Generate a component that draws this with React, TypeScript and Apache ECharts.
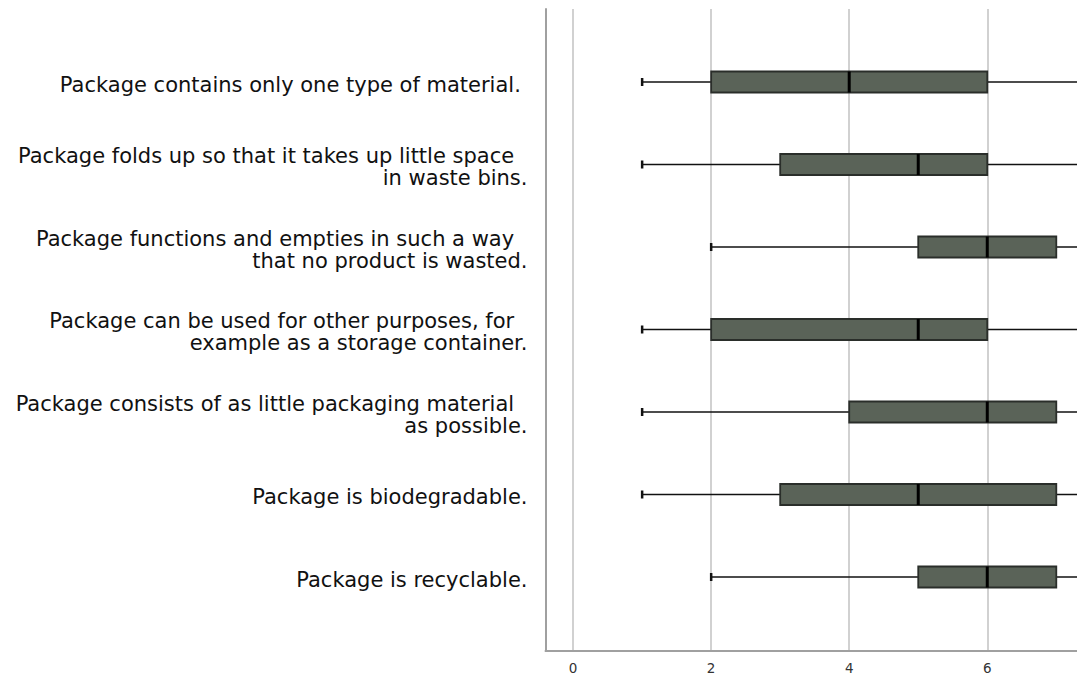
import React, { useEffect, useRef } from "react";
import * as echarts from "echarts";

// Statements rated by respondents, top to bottom
const statements: string[] = [
  "Package contains only one type of material. ",
  "Package folds up so that it takes up little space  \nin waste bins.",
  "Package functions and empties in such a way  \nthat no product is wasted.",
  "Package can be used for other purposes, for  \nexample as a storage container.",
  "Package consists of as little packaging material  \nas possible.",
  "Package is biodegradable.",
  "Package is recyclable.",
];

// Five-number summaries per statement
const whiskerLow: number[] = [1, 1, 2, 1, 1, 1, 2];
const quartile1: number[] = [2, 3, 5, 2, 4, 3, 5];
const medians: number[] = [4, 5, 6, 5, 6, 5, 6];
const quartile3: number[] = [6, 6, 7, 6, 7, 7, 7];
const whiskerHigh: number[] = [8, 8, 8, 8, 8, 8, 8];

const X_MIN = -0.4;
const X_MAX = 7.3;

export default function App() {
  const ref = useRef<HTMLDivElement>(null);

  useEffect(() => {
    if (!ref.current) return;
    const chart = echarts.init(ref.current, undefined, { renderer: "svg" });

    const rows = statements.map((_, i) => [
      i,
      whiskerLow[i],
      quartile1[i],
      medians[i],
      quartile3[i],
      whiskerHigh[i],
    ]);

    const BOX_H = 21;
    const CAP_H = 8;

    const renderItem = (params: any, api: any) => {
      const cat = api.value(0);
      const lo = api.coord([api.value(1), cat]);
      const q1 = api.coord([api.value(2), cat]);
      const md = api.coord([api.value(3), cat]);
      const q3 = api.coord([api.value(4), cat]);
      const hi = api.coord([api.value(5), cat]);
      const y = lo[1];
      const lineStyle = { stroke: "#111", lineWidth: 1.5 };
      return {
        type: "group",
        children: [
          { type: "line", shape: { x1: lo[0], y1: y, x2: q1[0], y2: y }, style: lineStyle },
          { type: "line", shape: { x1: q3[0], y1: y, x2: hi[0], y2: y }, style: lineStyle },
          {
            type: "line",
            shape: { x1: lo[0], y1: y - CAP_H / 2, x2: lo[0], y2: y + CAP_H / 2 },
            style: { stroke: "#111", lineWidth: 2.5 },
          },
          {
            type: "line",
            shape: { x1: hi[0], y1: y - CAP_H / 2, x2: hi[0], y2: y + CAP_H / 2 },
            style: { stroke: "#111", lineWidth: 2.5 },
          },
          {
            type: "rect",
            shape: { x: q1[0], y: y - BOX_H / 2, width: q3[0] - q1[0], height: BOX_H },
            style: { fill: "#5a6358", stroke: "#2a2e2a", lineWidth: 1.8 },
          },
          {
            type: "line",
            shape: { x1: md[0], y1: y - BOX_H / 2, x2: md[0], y2: y + BOX_H / 2 },
            style: { stroke: "#000", lineWidth: 3 },
          },
        ],
      };
    };

    chart.setOption({
      animation: false,
      backgroundColor: "#ffffff",
      textStyle: { fontFamily: "DejaVu Sans" },
      grid: [
        // frame: value axis, gridlines and left axis line
        { left: 545.5, right: 0, top: 9, bottom: 24, containLabel: false },
        // boxes
        { left: 545.5, right: 0, top: 40.75, bottom: 56.75, containLabel: false },
        // statement labels, sitting slightly lower than the boxes
        { left: 545.5, right: 0, top: 43.25, bottom: 54.25, containLabel: false },
      ],
      xAxis: [
        {
          type: "value",
          gridIndex: 0,
          min: X_MIN,
          max: X_MAX,
          splitNumber: 4,
          axisLine: { show: true, onZero: false, lineStyle: { color: "#a0a0a0", width: 2 } },
          axisTick: { show: false },
          axisLabel: {
            color: "#333",
            fontSize: 13.5,
            margin: 10,
            showMinLabel: false,
            showMaxLabel: false,
          },
          splitLine: {
            show: true,
            showMinLine: false,
            showMaxLine: false,
            lineStyle: { color: "#c2c2c2", width: 1.5 },
          },
        },
        { type: "value", gridIndex: 1, min: X_MIN, max: X_MAX, show: false },
        { type: "value", gridIndex: 2, min: X_MIN, max: X_MAX, show: false },
      ],
      yAxis: [
        {
          type: "value",
          gridIndex: 0,
          min: 0,
          max: 1,
          axisLine: { show: true, onZero: false, lineStyle: { color: "#a0a0a0", width: 2 } },
          axisTick: { show: false },
          axisLabel: { show: false },
          splitLine: { show: false },
        },
        {
          type: "category",
          gridIndex: 1,
          inverse: true,
          data: statements,
          show: false,
        },
        {
          type: "category",
          gridIndex: 2,
          inverse: true,
          data: statements,
          axisLine: { show: false },
          axisTick: { show: false },
          splitLine: { show: false },
          axisLabel: {
            color: "#111",
            fontSize: 21,
            lineHeight: 22,
            margin: 18,
            align: "right",
            fontFamily: "DejaVu Sans",
          },
        },
      ],
      series: [
        {
          type: "custom",
          xAxisIndex: 1,
          yAxisIndex: 1,
          clip: true,
          renderItem,
          encode: { x: [1, 2, 3, 4, 5], y: 0 },
          data: rows,
        },
      ],
    });

    return () => chart.dispose();
  }, []);

  return (
    <div
      ref={ref}
      style={{ position: "absolute", left: 0, top: 0, width: 1077, height: 675 }}
    />
  );
}
